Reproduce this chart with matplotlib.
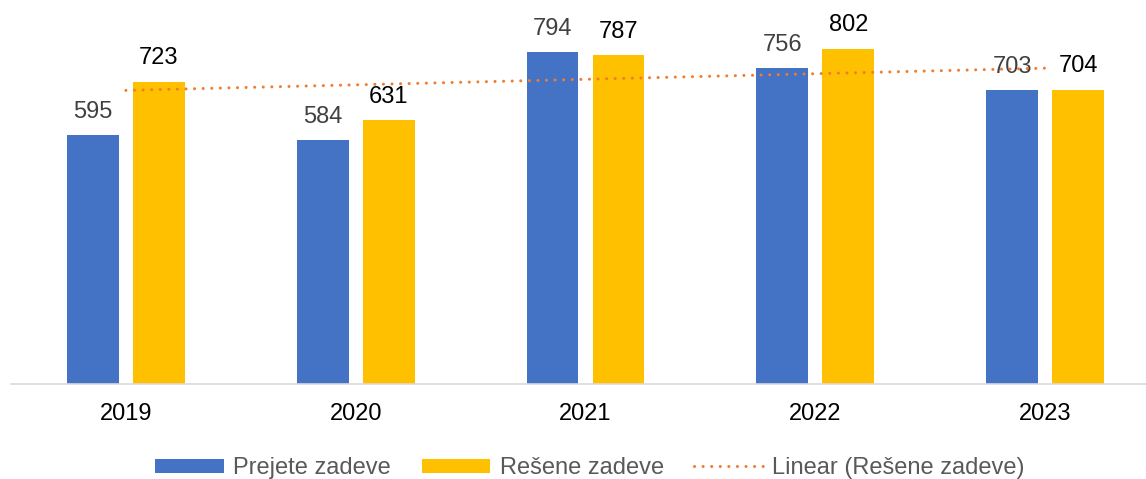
import numpy as np
import matplotlib
matplotlib.use("Agg")
import matplotlib.pyplot as plt

plt.rcParams["font.family"] = ["Liberation Sans", "DejaVu Sans"]

years = ["2019", "2020", "2021", "2022", "2023"]
prejete = [595, 584, 794, 756, 703]
resene = [723, 631, 787, 802, 704]

blue = "#4472C4"
gold = "#FFC000"
orange = "#ED7D31"

W, H = 1146, 479
fig = plt.figure(figsize=(W / 100, H / 100), dpi=100)
# plot area in pixels: left 11, baseline 384, 376 px tall
ax = fig.add_axes([11 / W, 1 - 384 / H, (W - 11) / W, 376 / H])

x = np.arange(len(years))
bw = 0.226
off = 0.1436
b1 = ax.bar(x - off, prejete, bw, color=blue, label="Prejete zadeve", zorder=2)
b2 = ax.bar(x + off, resene, bw, color=gold, label="Rešene zadeve", zorder=2)

# linear trendline of the second series
k, n = np.polyfit(x, resene, 1)
trend, = ax.plot(x, k * x + n, color=orange, lw=2.2, linestyle=(0, (0.01, 2.8)),
                 dash_capstyle="round", label="Linear (Rešene zadeve)", zorder=5)

for rect, v in zip(b1, prejete):
    ax.annotate(str(v), (rect.get_x() + rect.get_width() / 2, v),
                xytext=(0, 9), textcoords="offset points",
                ha="center", va="bottom", fontsize=17, color="#404040", zorder=3)
for rect, v in zip(b2, resene):
    ax.annotate(str(v), (rect.get_x() + rect.get_width() / 2, v),
                xytext=(0, 9), textcoords="offset points",
                ha="center", va="bottom", fontsize=17, color="black", zorder=3)

ax.set_xlim(-0.5, 4.5 - 14 / 229.75)
ax.set_ylim(0, 900)
ax.set_xticks(x)
ax.set_xticklabels(years, fontsize=17)
ax.tick_params(axis="x", length=0, pad=14)
ax.set_yticks([])
for s in ["top", "left", "right"]:
    ax.spines[s].set_visible(False)
ax.spines["bottom"].set_color("#D9D9D9")
ax.spines["bottom"].set_linewidth(1.2)

leg = fig.legend(handles=[b1, b2, trend], loc="center",
                 bbox_to_anchor=(590 / W, 1 - 468 / H), ncol=3,
                 frameon=False, fontsize=17, handlelength=2.9, handleheight=0.55,
                 handletextpad=0.4, columnspacing=1.3, borderpad=0)
for t in leg.get_texts():
    t.set_color("#595959")

fig.savefig("out.png", dpi=100)
